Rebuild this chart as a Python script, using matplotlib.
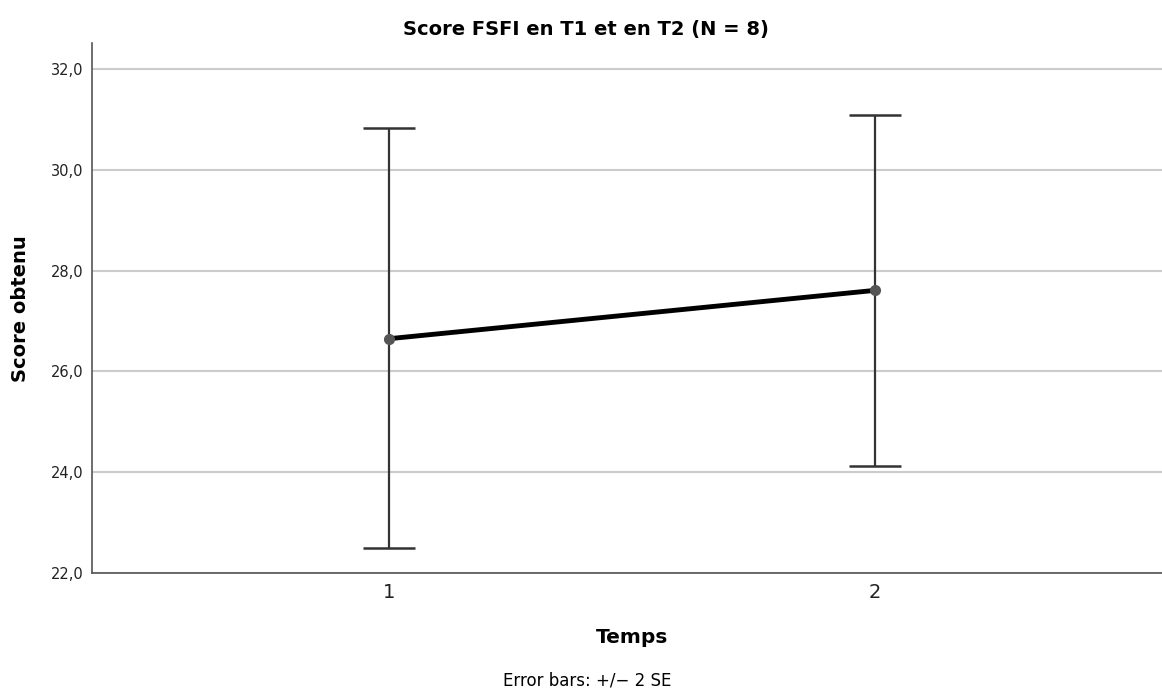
import matplotlib.pyplot as plt
import matplotlib.transforms as mtransforms

# === DATA ===
temps = [1, 2]
means = [26.65, 27.61]
lower = [22.50, 24.12]
upper = [30.83, 31.09]
yticks = [22, 24, 26, 28, 30, 32]

plt.rcParams['font.family'] = ['DejaVu Sans']

fig = plt.figure(figsize=(11.62, 6.91), dpi=100)
ax = fig.add_axes([0.0792, 0.1708, 0.9208, 0.767])

# grid lines
for t in yticks:
    ax.axhline(t, color='#cccccc', lw=1.5, zorder=0)

err_low = [m - l for m, l in zip(means, lower)]
err_up = [u - m for m, u in zip(means, upper)]
ax.errorbar(temps, means, yerr=[err_low, err_up], fmt='none',
            ecolor='#333333', elinewidth=1.6, capsize=19, capthick=1.8, zorder=2)
ax.plot(temps, means, color='black', lw=3.5, zorder=3)
ax.plot(temps, means, 'o', color='#555555', ms=7, zorder=4)

ax.set_xlim(0.389, 2.59)
ax.set_ylim(22, 32.52)
ax.set_xticks(temps)
ax.set_xticklabels([str(t) for t in temps], fontsize=14)
ax.set_yticks(yticks)
ax.set_yticklabels([f"{t:.1f}".replace('.', ',') for t in yticks], fontsize=10.5)
ax.tick_params(axis='both', length=0, colors='#222222')
ax.tick_params(axis='x', pad=7)
ax.tick_params(axis='y', pad=6)

for s in ['top', 'right']:
    ax.spines[s].set_visible(False)
ax.spines['left'].set_color('#555555')
ax.spines['bottom'].set_color('#555555')
ax.spines['left'].set_linewidth(1.2)
ax.spines['bottom'].set_linewidth(1.2)

fig.text(0.018, 0.553, 'Score obtenu', rotation=90, ha='center', va='center',
         fontsize=14, fontweight='bold')

fig.text(0.504, 0.957, 'Score FSFI en T1 et en T2 (N = 8)', ha='center', va='center',
         fontsize=14, fontweight='bold')
trans = mtransforms.blended_transform_factory(ax.transData, fig.transFigure)
ax.text(1.5, 0.078, 'Temps', transform=trans, ha='center', va='center',
        fontsize=14.5, fontweight='bold')
fig.text(0.505, 0.0145, 'Error bars: +/\u2212 2 SE', ha='center', va='center', fontsize=12)

fig.savefig('out.png', dpi=100)
